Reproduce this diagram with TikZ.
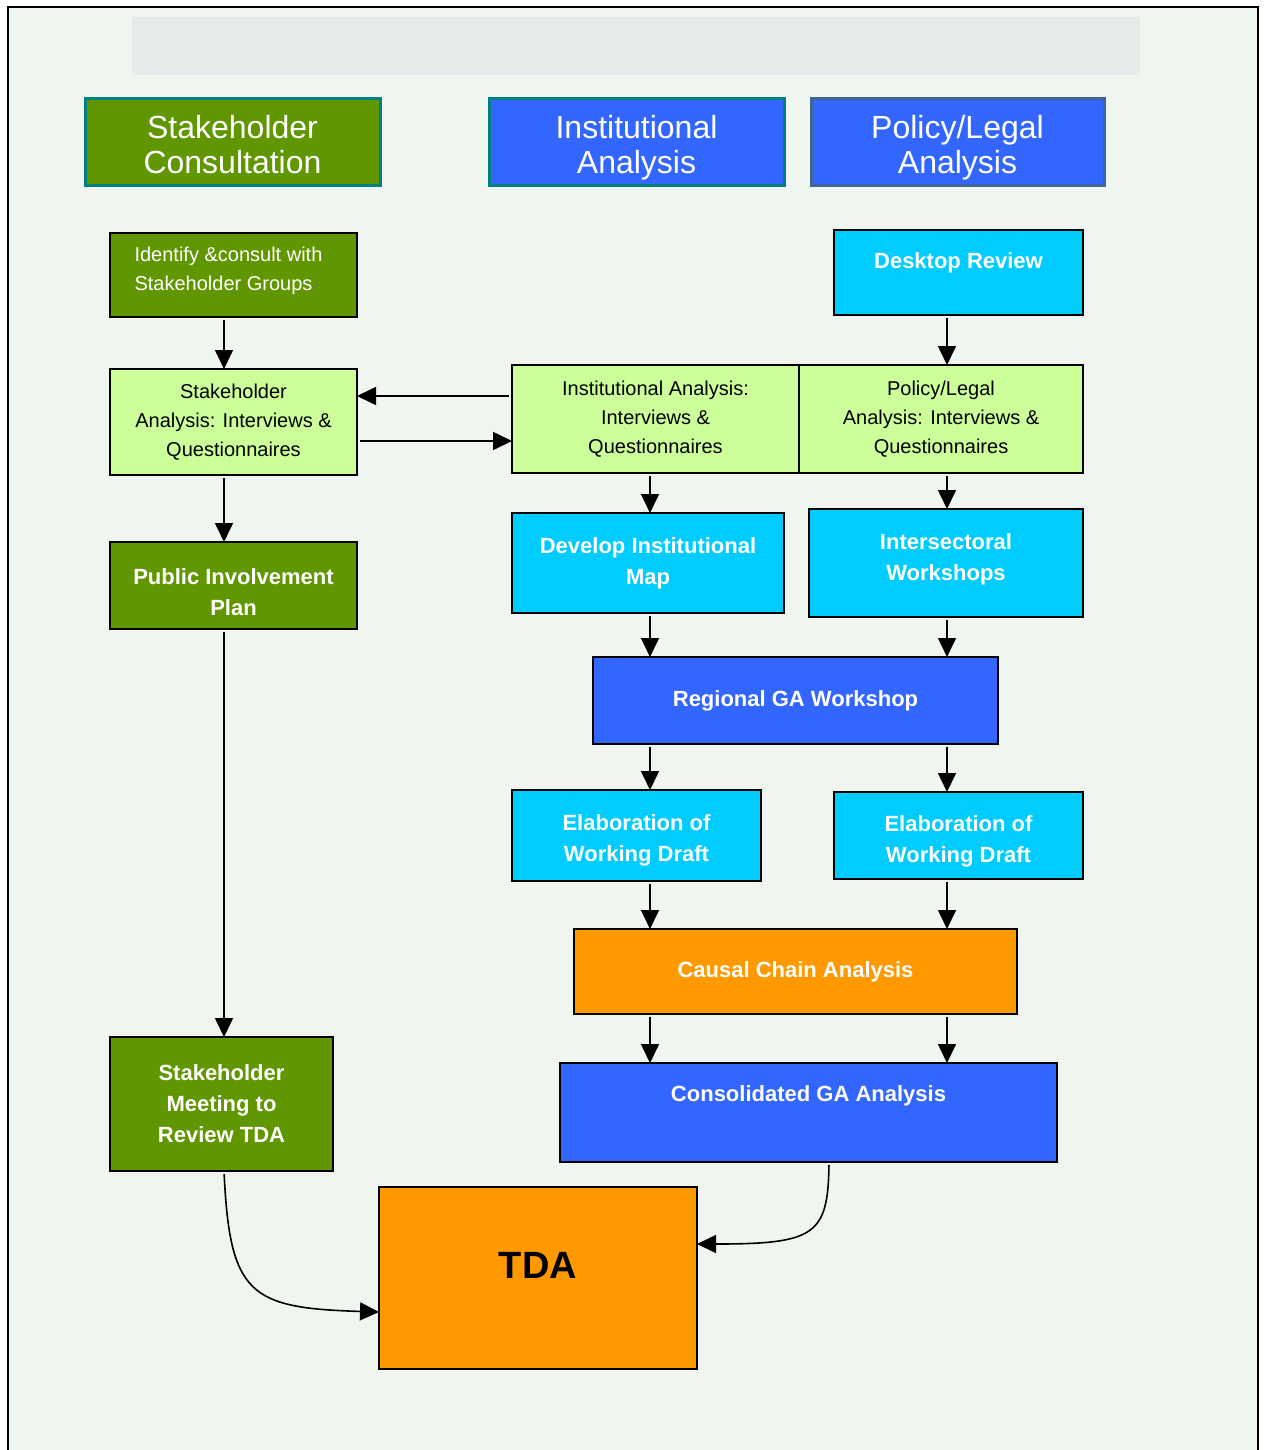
\documentclass[tikz,border=0pt]{standalone}
\usepackage{fontspec}
\setmainfont{Liberation Sans}
\usetikzlibrary{arrows.meta}
\definecolor{bgc}{HTML}{EFF5EF}
\definecolor{bandc}{HTML}{E6EAEA}
\definecolor{dgreen}{HTML}{609600}
\definecolor{lgreen}{HTML}{CCFF99}
\definecolor{cyanc}{HTML}{00CCFF}
\definecolor{bluec}{HTML}{3366FF}
\definecolor{orangec}{HTML}{FF9900}
\definecolor{tealc}{HTML}{00807F}
\definecolor{steelc}{HTML}{3F6496}
\begin{document}
\begin{tikzpicture}[x=1pt,y=-1pt,
  bx/.style={draw=black, line width=1.5pt, inner sep=0pt, outer sep=0pt, align=center},
  hdr/.style={bx, draw=tealc, line width=3pt},
  hdrtext/.style={text=white, align=center, font=\fontsize{32}{35}\selectfont},
  dg/.style={bx, fill=dgreen, text=white, font=\bfseries\fontsize{22}{31}\selectfont},
  lg/.style={bx, fill=lgreen, text=black, font=\fontsize{20}{29}\selectfont},
  cy/.style={bx, fill=cyanc, text=white, font=\bfseries\fontsize{22}{31}\selectfont},
  bl/.style={bx, fill=bluec, text=white, font=\bfseries\fontsize{22}{31}\selectfont},
  orb/.style={bx, fill=orangec, text=white, font=\bfseries\fontsize{22}{31}\selectfont},
  lbw/.style={text=white, align=center, font=\bfseries\fontsize{22}{31}\selectfont},
  arr/.style={line width=1.6pt, -{Triangle[length=19pt,width=18pt]}, shorten <=3pt}
]
\useasboundingbox (0,0) rectangle (1263,1450);
\fill[white] (0,0) rectangle (1263,1450);
\fill[bgc] (8,7) rectangle (1258,1450);
\draw[line width=2.5pt] (8,1450) -- (8,7) -- (1258,7) -- (1258,1450);
\node[fill=bandc, minimum width=1008pt, minimum height=58pt, inner sep=0pt] (band) at (636,46) {};

% headers
\node[hdr, fill=dgreen, minimum width=295pt, minimum height=87pt,
  label={[hdrtext, yshift=-2pt]center:Stakeholder\\Consultation}] (hsc) at (232.5,142.5) {};
\node[hdr, fill=bluec, minimum width=295pt, minimum height=87pt,
  label={[hdrtext, yshift=-5pt]center:Institutional\\Analysis}] (hia) at (636.5,142.5) {};
\node[hdr, fill=bluec, draw=steelc, minimum width=293pt, minimum height=87pt,
  label={[hdrtext, yshift=-5pt]center:Policy/Legal\\Analysis}] (hpl) at (957.5,142.5) {};

% left column
\node[dg, minimum width=247pt, minimum height=84pt,
  label={[text=white, align=left, font=\fontsize{20}{29}\selectfont, xshift=-5pt, yshift=4.5pt]center:Identify \&consult with\\Stakeholder Groups}] (ident) at (233.5,275) {};
\node[lg, minimum width=247pt, minimum height=106pt] (sa) at (233.5,422) {Stakeholder\\Analysis: Interviews \&\\Questionnaires};
\node[dg, minimum width=247pt, minimum height=87pt,
  label={[lbw, yshift=-6.5pt]center:Public Involvement\\Plan}] (pip) at (233.5,585.5) {};
\node[dg, minimum width=223pt, minimum height=134pt] (smr) at (221.5,1104) {Stakeholder\\Meeting to\\Review TDA};

% right part
\node[cy, minimum width=249pt, minimum height=85pt,
  label={[lbw, yshift=9.5pt]center:Desktop Review}] (desk) at (958.5,272.5) {};
\node[lg, minimum width=287pt, minimum height=108pt] (iai) at (655.5,419) {Institutional Analysis:\\Interviews \&\\Questionnaires};
\node[lg, minimum width=284pt, minimum height=108pt] (pli) at (941,419) {Policy/Legal\\Analysis: Interviews \&\\Questionnaires};
\node[cy, minimum width=272pt, minimum height=100pt] (dim) at (648,563) {Develop Institutional\\Map};
\node[cy, minimum width=274pt, minimum height=108pt,
  label={[lbw, yshift=3.5pt]center:Intersectoral\\Workshops}] (isw) at (946,563) {};
\node[bl, minimum width=405pt, minimum height=87pt] (rga) at (795.5,700.5) {Regional GA Workshop};
\node[cy, minimum width=249pt, minimum height=91pt,
  label={[lbw, yshift=-5pt]center:Elaboration of\\Working Draft}] (el1) at (636.5,835.5) {};
\node[cy, minimum width=249pt, minimum height=87pt,
  label={[lbw, yshift=-5.5pt]center:Elaboration of\\Working Draft}] (el2) at (958.5,835.5) {};
\node[orb, minimum width=443pt, minimum height=85pt] (cca) at (795.5,971.5) {Causal Chain Analysis};
\node[bl, minimum width=497pt, minimum height=99pt,
  label={[lbw, yshift=16.5pt]center:Consolidated GA Analysis}] (cga) at (808.5,1112.5) {};
\node[orb, minimum width=318pt, minimum height=182pt,
  label={[text=black, font=\bfseries\fontsize{38}{40}\selectfont, yshift=13pt]center:TDA}] (tda) at (538,1278) {};

% helper coordinates
\coordinate (xa) at (224,0);
\coordinate (xb) at (650,0);
\coordinate (xc) at (947,0);
\coordinate (xd) at (829,0);
\coordinate (ya) at (0,396);
\coordinate (yb) at (0,441);
\coordinate (yc) at (0,1312);
\coordinate (yd) at (0,1244);

% connectors
\draw[arr] (ident.south -| xa) -- (sa.north -| xa);
\draw[arr] (iai.west |- ya) -- (sa.east |- ya);
\draw[arr] (sa.east |- yb) -- (iai.west |- yb);
\draw[arr] (sa.south -| xa) -- (pip.north -| xa);
\draw[arr] (pip.south -| xa) -- (smr.north -| xa);
\draw[arr] (desk.south -| xc) -- (pli.north -| xc);
\draw[arr] (iai.south -| xb) -- (dim.north -| xb);
\draw[arr] (pli.south -| xc) -- (isw.north -| xc);
\draw[arr] (dim.south -| xb) -- (rga.north -| xb);
\draw[arr] (isw.south -| xc) -- (rga.north -| xc);
\draw[arr] (rga.south -| xb) -- (el1.north -| xb);
\draw[arr] (rga.south -| xc) -- (el2.north -| xc);
\draw[arr] (el1.south -| xb) -- (cca.north -| xb);
\draw[arr] (el2.south -| xc) -- (cca.north -| xc);
\draw[arr] (cca.south -| xb) -- (cga.north -| xb);
\draw[arr] (cca.south -| xc) -- (cga.north -| xc);
\draw[arr] (smr.south -| xa) .. controls (230,1295) and (250,1308) .. (tda.west |- yc);
\draw[arr] (cga.south -| xd) .. controls (828,1235) and (815,1244) .. (tda.east |- yd);
\end{tikzpicture}
\end{document}
